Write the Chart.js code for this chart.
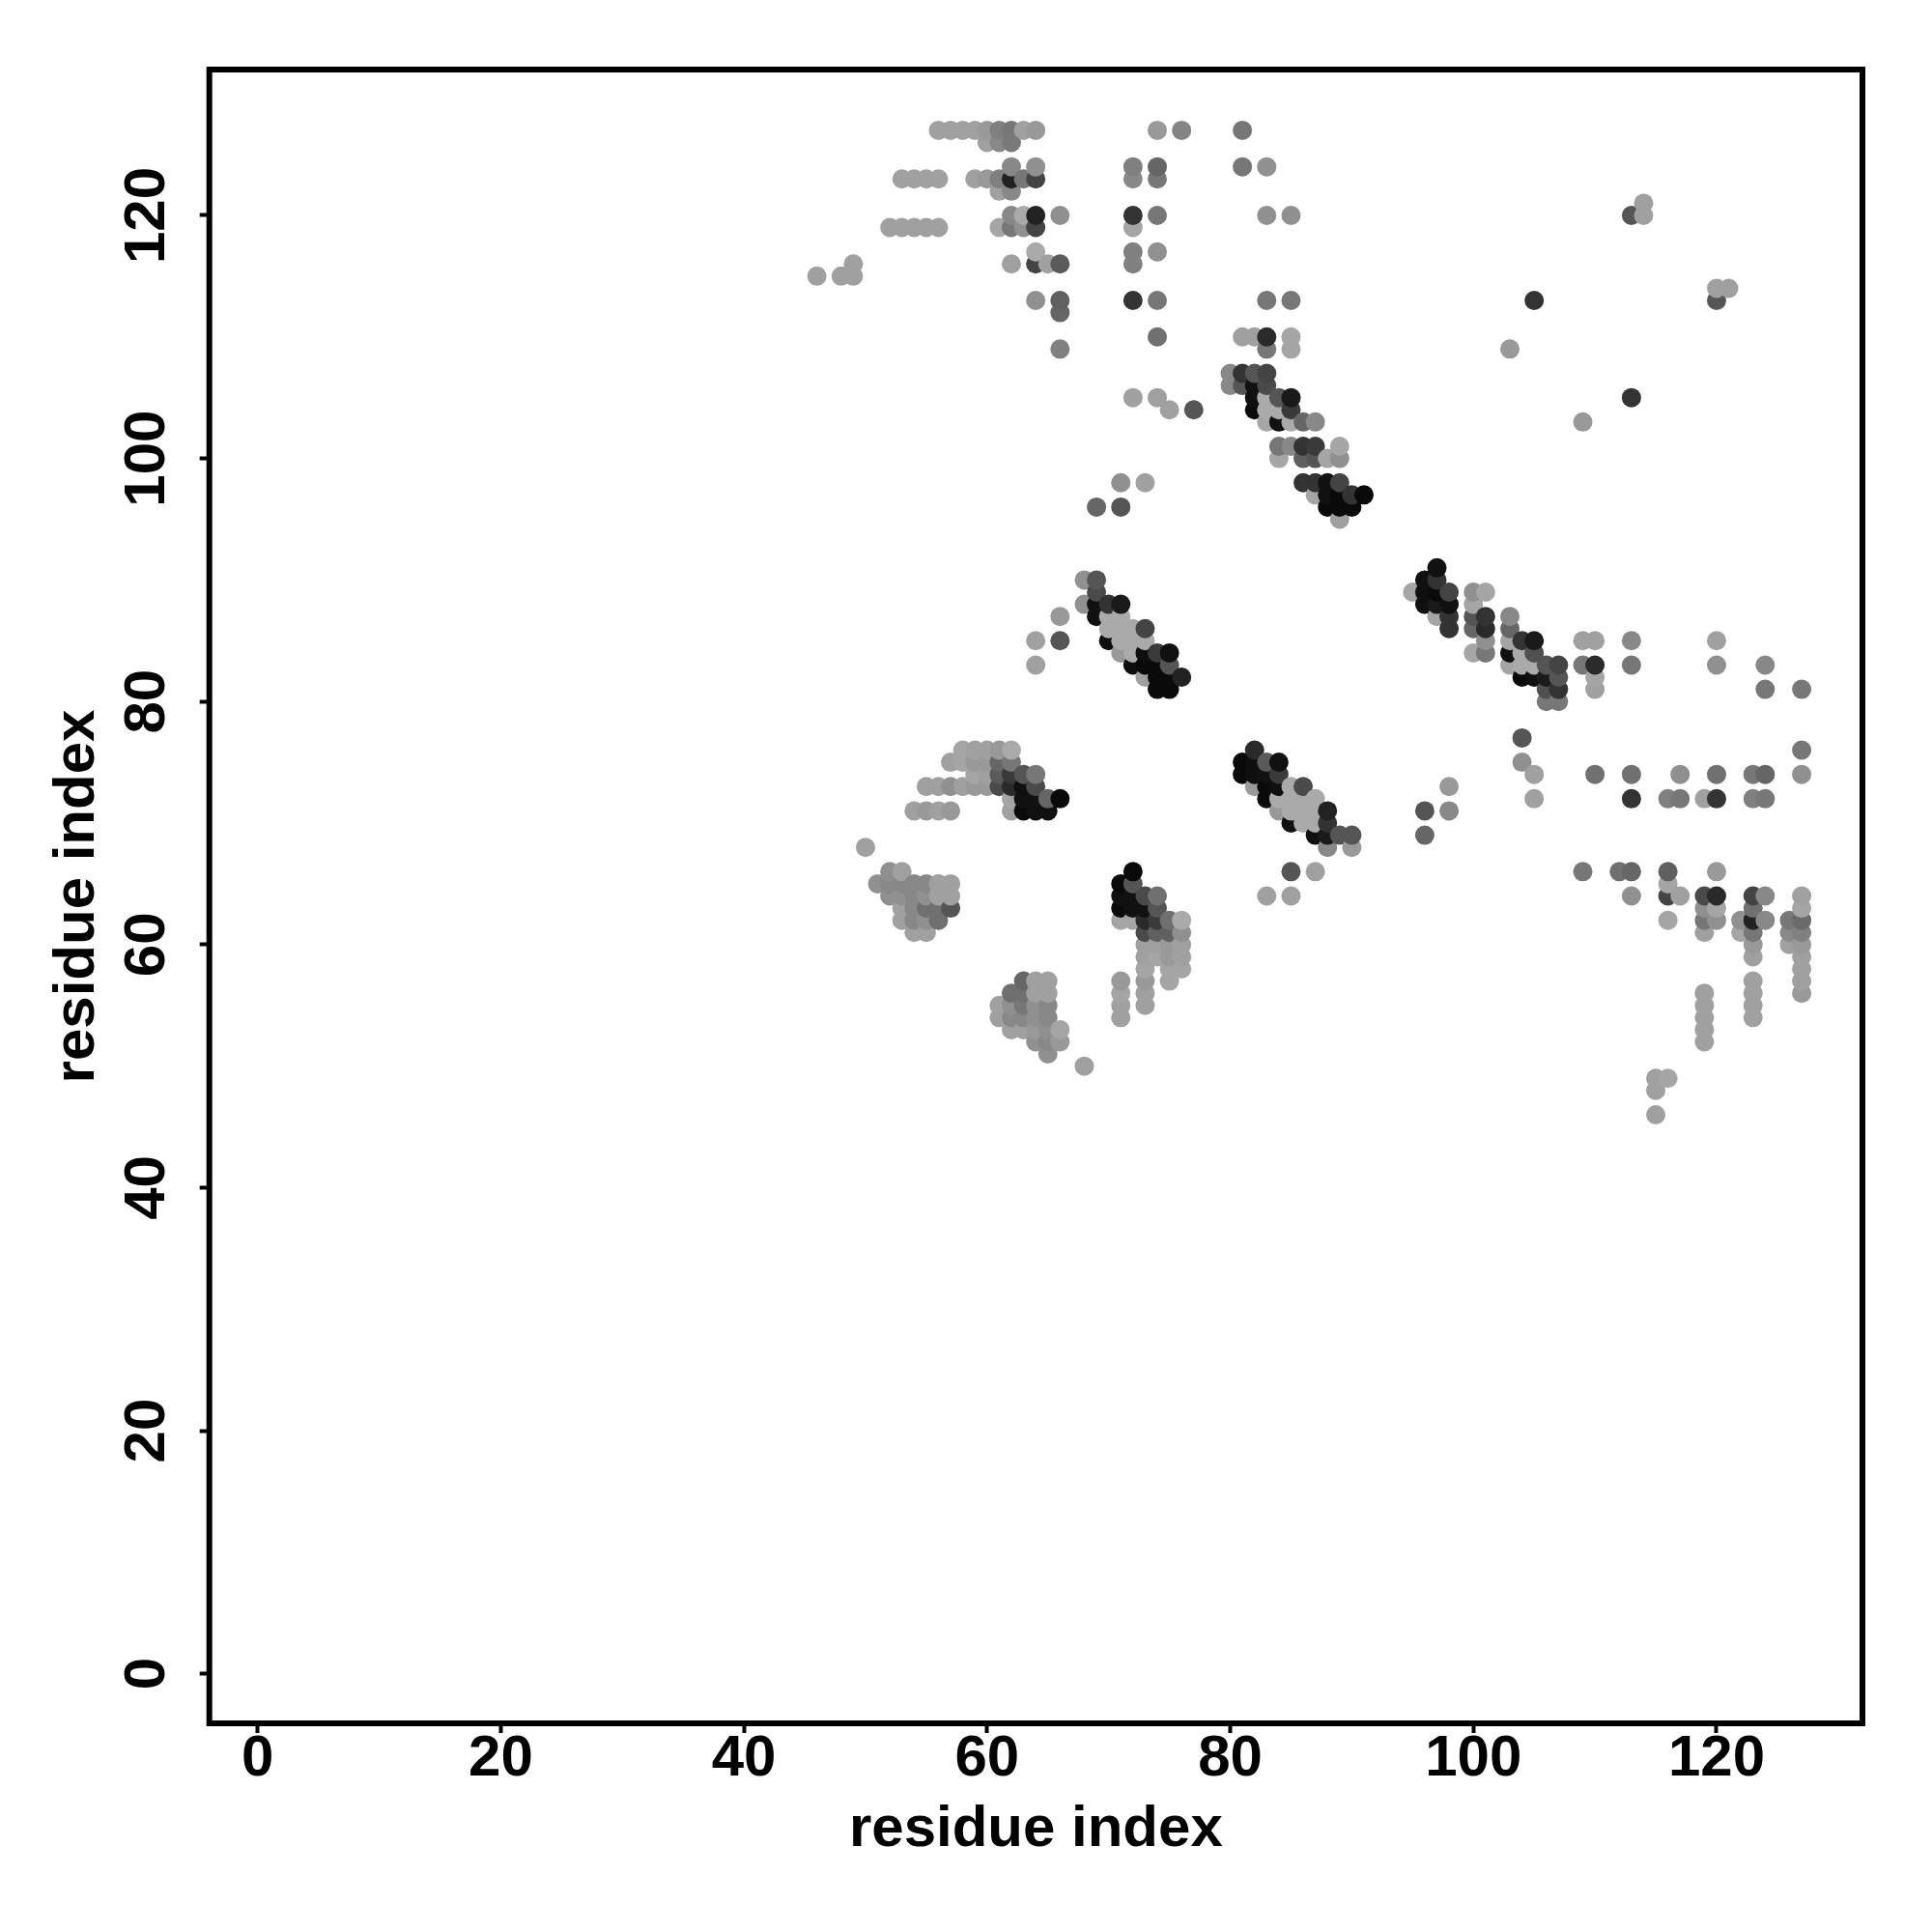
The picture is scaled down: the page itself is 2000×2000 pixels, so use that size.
<!DOCTYPE html>
<html>
<head>
<meta charset="utf-8">
<title>residue contacts</title>
<style>
    body { margin: 0; background: #fff; }
    canvas { display: block; }
</style>
<script src="https://cdn.jsdelivr.net/npm/chart.js@4"></script>
</head>
<body>
<canvas id="myChart" width="2000" height="2000"></canvas>
<script>
"use strict";

const tickValues = [0, 20, 40, 60, 80, 100, 120];
const axisTitle = "residue index";

// one entry per row of the map, top to bottom
const contactY = [127, 126, 124, 123, 122, 121, 120, 119, 117, 116, 115, 114, 113, 112, 110, 109, 107, 106, 105, 104, 103, 101, 100, 98, 97, 96, 95, 91, 90, 89, 88, 87, 86, 85, 84, 83, 82, 81, 80, 77, 76, 75, 74, 73, 72, 71, 70, 69, 68, 66, 65, 64, 63, 62, 61, 60, 59, 58, 57, 56, 55, 54, 53, 52, 51, 50, 49, 48, 46];

const contactX = [
    [56, 57, 58, 59, 60, 61, 62, 63, 64, 74, 76, 81],
    [60, 61, 62],
    [62, 64, 72, 74, 81, 83],
    [53, 54, 55, 56, 59, 60, 61, 62, 63, 64, 72, 74],
    [61, 62],
    [114],
    [62, 63, 64, 66, 72, 74, 83, 85, 113, 114],
    [52, 53, 54, 55, 56, 61, 62, 63, 64, 72],
    [64, 72, 74],
    [49, 62, 64, 65, 66, 72],
    [46, 48, 49],
    [120, 121],
    [64, 66, 72, 74, 83, 85, 105, 120],
    [66],
    [74, 81, 82, 83, 85],
    [66, 83, 85, 103],
    [80, 81, 82, 83],
    [80, 81, 82, 83],
    [72, 74, 82, 83, 84, 85, 113],
    [75, 77, 82, 83, 84, 85],
    [83, 84, 85, 86, 87, 109],
    [84, 85, 86, 87, 89],
    [84, 86, 87, 88, 89],
    [71, 73, 86, 87, 88, 89],
    [87, 88, 89, 90, 91],
    [69, 71, 88, 89, 90],
    [89],
    [97],
    [68, 69, 96, 97],
    [69, 95, 96, 97, 98, 100, 101],
    [68, 69, 70, 71, 96, 97, 98, 100],
    [66, 69, 70, 71, 97, 98, 100, 101, 103],
    [70, 71, 72, 73, 98, 100, 101, 103],
    [64, 66, 70, 71, 72, 73, 101, 103, 104, 105, 109, 110, 113, 120],
    [71, 72, 73, 74, 75, 100, 101, 103, 104, 105],
    [64, 72, 73, 74, 75, 103, 104, 105, 106, 107, 109, 110, 113, 120, 124],
    [73, 74, 75, 76, 104, 105, 106, 107, 110],
    [74, 75, 106, 107, 110, 124, 127],
    [106, 107],
    [104],
    [58, 59, 60, 61, 62, 82, 127],
    [57, 58, 59, 60, 61, 62, 81, 82, 83, 84, 104],
    [59, 60, 61, 62, 63, 64, 81, 82, 83, 84, 105, 110, 113, 117, 120, 123, 124, 127],
    [55, 56, 57, 58, 59, 60, 61, 62, 63, 64, 82, 83, 84, 85, 86, 98],
    [62, 63, 64, 65, 66, 83, 84, 85, 86, 87, 105, 113, 116, 117, 119, 120, 123, 124],
    [54, 55, 56, 57, 62, 63, 64, 65, 84, 85, 86, 87, 88, 96, 98],
    [85, 86, 87, 88],
    [87, 88, 89, 90, 96],
    [50, 88, 90],
    [52, 53, 72, 85, 87, 109, 112, 113, 116, 120],
    [51, 52, 53, 54, 55, 56, 57, 71, 72, 116],
    [52, 53, 54, 55, 56, 57, 71, 72, 73, 74, 83, 85, 113, 116, 117, 119, 120, 123, 124, 127],
    [53, 54, 55, 56, 57, 71, 72, 73, 74, 119, 120, 123, 127],
    [53, 54, 55, 56, 71, 72, 73, 74, 75, 76, 116, 119, 120, 122, 123, 124, 126, 127],
    [54, 55, 73, 74, 75, 76, 119, 122, 123, 126, 127],
    [73, 74, 75, 76, 123, 126, 127],
    [73, 74, 75, 76, 123, 127],
    [73, 75, 76, 127],
    [63, 64, 65, 71, 73, 75, 123, 127],
    [62, 63, 64, 65, 71, 73, 119, 123, 127],
    [61, 62, 63, 64, 65, 71, 73, 119, 123],
    [61, 62, 63, 64, 65, 71, 119, 123],
    [62, 63, 64, 65, 66, 119],
    [64, 65, 66, 119],
    [65],
    [68],
    [115, 116],
    [115],
    [115]
];

// contact strength read from the grey of each dot, 0 is palest
const contactScore = [
    [10, 10, 10, 10, 17, 42, 51, 10, 17, 17, 38, 51],
    [10, 34, 48],
    [34, 26, 42, 68, 51, 26],
    [10, 10, 10, 10, 10, 17, 42, 136, 51, 102, 34, 51],
    [10, 34],
    [10],
    [34, 0, 136, 26, 119, 51, 26, 26, 85, 10],
    [10, 10, 10, 10, 10, 5, 51, 26, 102, 5],
    [0, 42, 26],
    [10, 10, 102, 10, 80, 42],
    [10, 10, 10],
    [10, 10],
    [26, 74, 119, 51, 51, 51, 119, 85],
    [68],
    [58, 10, 10, 128, 5],
    [42, 51, 5, 17],
    [34, 119, 85, 102],
    [34, 85, 153, 96],
    [10, 10, 153, 0, 85, 144, 119],
    [10, 85, 160, 0, 0, 112],
    [5, 153, 0, 68, 34, 17],
    [51, 34, 119, 112, 5],
    [5, 74, 85, 5, 26],
    [26, 10, 119, 119, 153, 102],
    [5, 153, 160, 119, 160],
    [68, 85, 160, 160, 160],
    [10],
    [153],
    [26, 85, 153, 119],
    [96, 5, 155, 160, 102, 26, 5],
    [26, 153, 119, 144, 153, 144, 153, 5],
    [17, 153, 0, 0, 5, 119, 85, 119, 34],
    [0, 0, 0, 102, 119, 68, 128, 68],
    [10, 85, 155, 0, 0, 0, 26, 5, 119, 144, 10, 10, 34, 10],
    [17, 0, 155, 112, 153, 5, 51, 153, 0, 90],
    [10, 155, 160, 160, 85, 5, 0, 0, 85, 102, 51, 128, 51, 26, 34],
    [10, 160, 160, 136, 160, 155, 144, 85, 5],
    [160, 160, 90, 119, 10, 51, 51],
    [51, 51],
    [85],
    [5, 10, 10, 17, 0, 128, 51],
    [10, 5, 17, 17, 68, 51, 160, 155, 80, 153, 26],
    [5, 10, 80, 112, 85, 51, 160, 155, 153, 112, 10, 58, 58, 26, 58, 51, 68, 26],
    [10, 10, 26, 10, 17, 17, 96, 128, 155, 96, 17, 160, 155, 0, 96, 17],
    [5, 153, 153, 68, 160, 160, 0, 0, 0, 0, 10, 119, 42, 51, 10, 119, 42, 51],
    [10, 17, 10, 17, 10, 160, 153, 153, 17, 0, 0, 0, 136, 85, 34],
    [153, 0, 0, 119],
    [153, 144, 85, 85, 68],
    [10, 34, 17],
    [26, 10, 160, 85, 10, 51, 58, 68, 74, 17],
    [26, 34, 34, 34, 34, 10, 10, 160, 85, 5],
    [26, 26, 34, 26, 10, 10, 153, 153, 96, 58, 10, 10, 26, 102, 10, 96, 128, 102, 34, 10],
    [10, 34, 58, 58, 85, 160, 153, 153, 85, 26, 5, 58, 5],
    [10, 34, 26, 58, 5, 5, 128, 112, 58, 0, 5, 51, 26, 26, 136, 34, 51, 64],
    [10, 10, 96, 74, 74, 26, 10, 5, 51, 34, 42],
    [10, 10, 17, 10, 17, 10, 17],
    [10, 5, 17, 10, 10, 10],
    [5, 5, 5, 10],
    [68, 10, 10, 17, 17, 5, 10, 10],
    [58, 58, 10, 10, 5, 10, 10, 10, 17],
    [10, 26, 51, 26, 34, 10, 10, 10, 10],
    [10, 34, 34, 26, 34, 10, 10, 10],
    [10, 10, 17, 26, 5, 10],
    [26, 34, 17, 10],
    [26],
    [10],
    [10, 5],
    [10],
    [10]
];

const ctx = document.getElementById("myChart");

function scoreToGrey(score) {
    const g = 170 - score;
    return `rgb(${g},${g},${g})`;
}

function buildPoints() {
    const points = [];
    for (let i = 0; i < contactY.length; i++) {
        for (let j = 0; j < contactX[i].length; j++) {
            points.push({ x: contactX[i][j], y: contactY[i], score: contactScore[i][j] });
        }
    }
    // column by column, upper rows last, that is how the dots overlap
    points.sort((a, b) => a.x - b.x || a.y - b.y);
    return points;
}

function setTicks(scale) {
    scale.ticks = tickValues.map((v) => ({ value: v }));
}

const frame = {
    id: "frame",
    afterDraw(chart) {
        const area = chart.chartArea;
        const c = chart.ctx;
        c.save();
        c.strokeStyle = "#000";
        c.lineWidth = 6;
        c.strokeRect(area.left, area.top, area.right - area.left, area.bottom - area.top);
        c.restore();
    }
};

const labelFont = { family: "Liberation Sans", weight: "bold", size: 60 };
const tickGrid = {
    drawOnChartArea: false,
    drawTicks: true,
    tickLength: 10,
    tickWidth: 4,
    tickColor: "#000"
};

const myChart = new Chart(ctx, {
    type: "scatter",
    data: {
        datasets: [
            {
                label: "contacts",
                data: buildPoints(),
                pointRadius: 10,
                pointBorderWidth: 0,
                pointBackgroundColor: (item) => scoreToGrey(item.raw ? item.raw.score : 0)
            }
        ]
    },
    options: {
        responsive: false,
        animation: false,
        layout: { padding: { top: 72, right: 72, left: 0, bottom: 0 } },
        plugins: { legend: { display: false }, tooltip: { enabled: false } },
        scales: {
            x: {
                min: -3.97,
                max: 132,
                afterBuildTicks: setTicks,
                afterFit(scale) { scale.height = 216; },
                grid: tickGrid,
                border: { display: false },
                ticks: { color: "#000", font: labelFont, padding: -9, maxRotation: 0, autoSkip: false },
                title: { display: true, text: axisTitle, color: "#000", font: labelFont, padding: { top: 0, bottom: 70 } }
            },
            y: {
                min: -4.08,
                max: 132,
                afterBuildTicks: setTicks,
                afterFit(scale) { scale.width = 216.7; },
                grid: tickGrid,
                border: { display: false },
                ticks: { color: "#000", font: labelFont, padding: 3.5, minRotation: 90, maxRotation: 90, crossAlign: "center", autoSkip: false },
                title: { display: true, text: axisTitle, color: "#000", font: labelFont, padding: { top: 44, bottom: 0 } }
            }
        }
    },
    plugins: [frame]
});
</script>
</body>
</html>
